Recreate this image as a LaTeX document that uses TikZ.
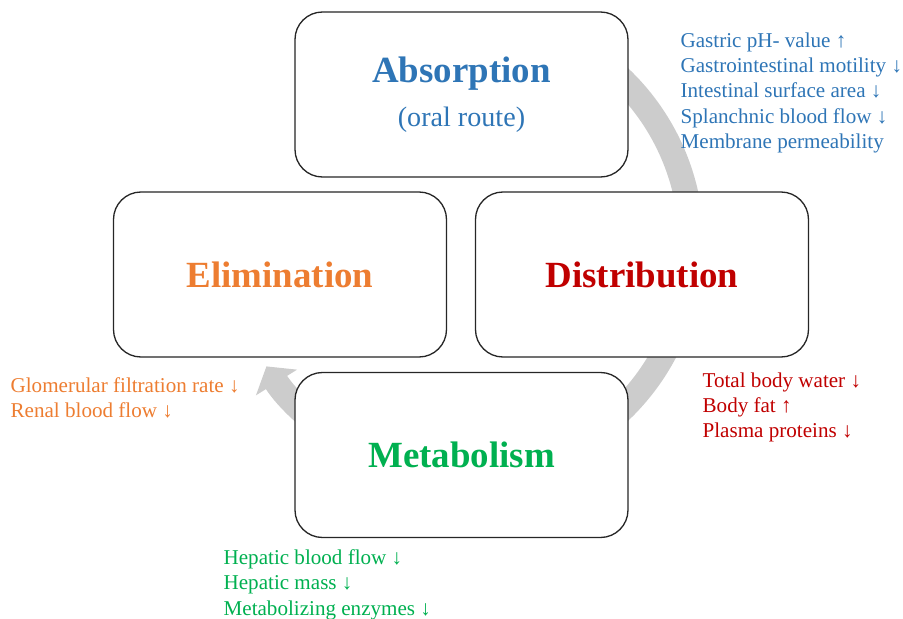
\documentclass[tikz,border=0pt]{standalone}
\usepackage{fontspec}
\setmainfont{Liberation Serif}
\usetikzlibrary{arrows.meta}
\definecolor{absblue}{RGB}{46,117,182}
\definecolor{eliorange}{RGB}{237,125,49}
\definecolor{disred}{RGB}{192,0,0}
\definecolor{metgreen}{RGB}{0,176,80}
\tikzset{every picture/.style={line width=0.75pt},
  phase/.style={draw=black!85, fill=white, rounded corners=0.55cm,
    minimum width=6.66cm, minimum height=3.3cm, align=center,
    font=\fontsize{21}{25}\selectfont\bfseries},
  factors/.style={align=left, anchor=north west, inner sep=0pt,
    font=\fontsize{12}{14.4}\selectfont}}

\begin{document}
\begin{tikzpicture}
    \useasboundingbox (-9.23,-6.89) rectangle (8.83,5.49);

    % 循环箭头
    \coordinate (ring) at (0,0.6);
    \draw[gray!40, line width=0.5cm, -{Triangle[width=0.95cm, length=0.38cm]}]
        ([shift={(60:4.6)}]ring) arc[start angle=60, end angle=-148, radius=4.6];

    % 四个阶段
    \node[phase, text=absblue] (abs) at (0,3.6)
        {Absorption\\{\fontsize{16}{19}\selectfont\mdseries (oral route)}};
    \node[phase, text=eliorange] (eli) at (-3.63,0) {Elimination};
    \node[phase, text=disred] (dis) at (3.61,0) {Distribution};
    \node[phase, text=metgreen] (met) at (0,-3.61) {Metabolism};

    % 影响因素
    \node[factors, text=absblue] (absfac) at (4.37,4.85)
        {Gastric pH- value ↑\\Gastrointestinal motility ↓\\Intestinal surface area ↓\\Splanchnic blood flow ↓\\Membrane permeability};
    \node[factors, text=disred] (disfac) at (4.81,-1.95)
        {Total body water ↓\\Body fat ↑\\Plasma proteins ↓};
    \node[factors, text=eliorange] (elifac) at (-9.03,-2.05)
        {Glomerular filtration rate ↓\\Renal blood flow ↓};
    \node[factors, text=metgreen] (metfac) at (-4.77,-5.49)
        {Hepatic blood flow ↓\\Hepatic mass ↓\\Metabolizing enzymes ↓};
\end{tikzpicture}
\end{document}
